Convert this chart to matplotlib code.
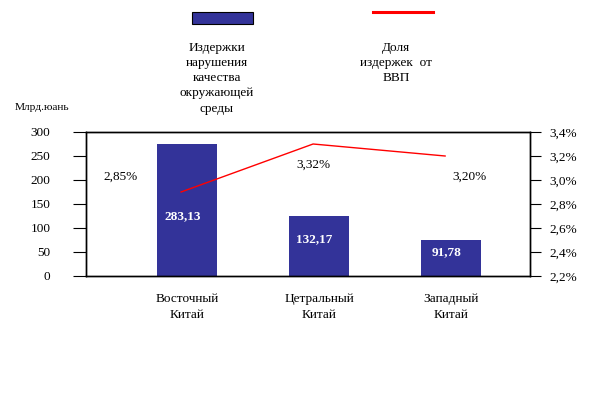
import matplotlib.pyplot as plt
from matplotlib.patches import Rectangle
from matplotlib.lines import Line2D

plt.rcParams["font.family"] = ["Liberation Serif", "DejaVu Serif"]
plt.rcParams["font.size"] = 9.5

regions = ["Восточный\nКитай", "Цетральный\nКитай", "Западный\nКитай"]
cost_bars = [275, 125, 75]
cost_labels = ["283,13", "132,17", "91,78"]
share_line = [2.9, 3.3, 3.2]
share_labels = ["2,85%", "3,32%", "3,20%"]
left_ticks = [0, 50, 100, 150, 200, 250, 300]
right_ticks = [2.2, 2.4, 2.6, 2.8, 3.0, 3.2, 3.4]

bar_color = "#333399"
W, H = 602, 396

fig = plt.figure(figsize=(6.02, 3.96), dpi=100)
ax = fig.add_axes([86 / W, 1 - 276 / H, (530 - 86) / W, (276 - 132) / H])
x = list(range(len(regions)))

ax.bar(x, cost_bars, width=0.4545, color=bar_color, zorder=2)
ax.set_xlim(-0.765, 2.598)
ax.set_ylim(0, 300)
ax.set_yticks(left_ticks)
ax.tick_params(axis="y", direction="out", length=9.5, pad=16, width=0.8)
ax.set_xticks(x)
ax.set_xticklabels(regions, linespacing=1.5)
ax.tick_params(axis="x", length=0, pad=12)
for s in ax.spines.values():
    s.set_linewidth(1)
    s.set_color("black")

label_y = [125, 77, 50]
for xi, lab, ly in zip(x, cost_labels, label_y):
    ax.text(xi - 0.035, ly, lab, ha="center", va="center", color="white",
            fontweight="bold", zorder=3)

ax2 = ax.twinx()
ax2.plot([xi - 0.045 for xi in x], share_line, color="red", lw=1, zorder=4)
ax2.set_ylim(2.2, 3.4)
ax2.set_yticks(right_ticks)
ax2.set_yticklabels([f"{t:.1f}%".replace(".", ",") for t in right_ticks])
ax2.tick_params(axis="y", direction="out", length=8, pad=6, width=0.8)
for s in ax2.spines.values():
    s.set_linewidth(1)

share_pos = [(-0.5, 3.03), (0.96, 3.13), (2.14, 3.03)]
for (px, py), lab in zip(share_pos, share_labels):
    ax2.text(px, py, lab, ha="center", va="center", color="black")

fig.text(15 / W, 1 - 107 / H, "Млрд.юань", ha="left", va="center", fontsize=8.2)

# legend drawn by hand above the plot
fig.add_artist(Rectangle((192 / W, 1 - 24 / H), 61 / W, 12 / H,
                         transform=fig.transFigure, facecolor=bar_color,
                         edgecolor="black", lw=0.8))
fig.add_artist(Line2D([373 / W, 433 / W], [1 - 12 / H, 1 - 12 / H],
                      transform=fig.transFigure, color="red", lw=2.2))
fig.text(217 / W, 1 - 42 / H, "Издержки\nнарушения\nкачества\nокружающей\nсреды",
         ha="center", va="top", multialignment="center", linespacing=1.35)
fig.text(396 / W, 1 - 42 / H, "Доля\nиздержек  от\nВВП",
         ha="center", va="top", multialignment="center", linespacing=1.35)

fig.savefig("out.png", dpi=100, facecolor="white")
